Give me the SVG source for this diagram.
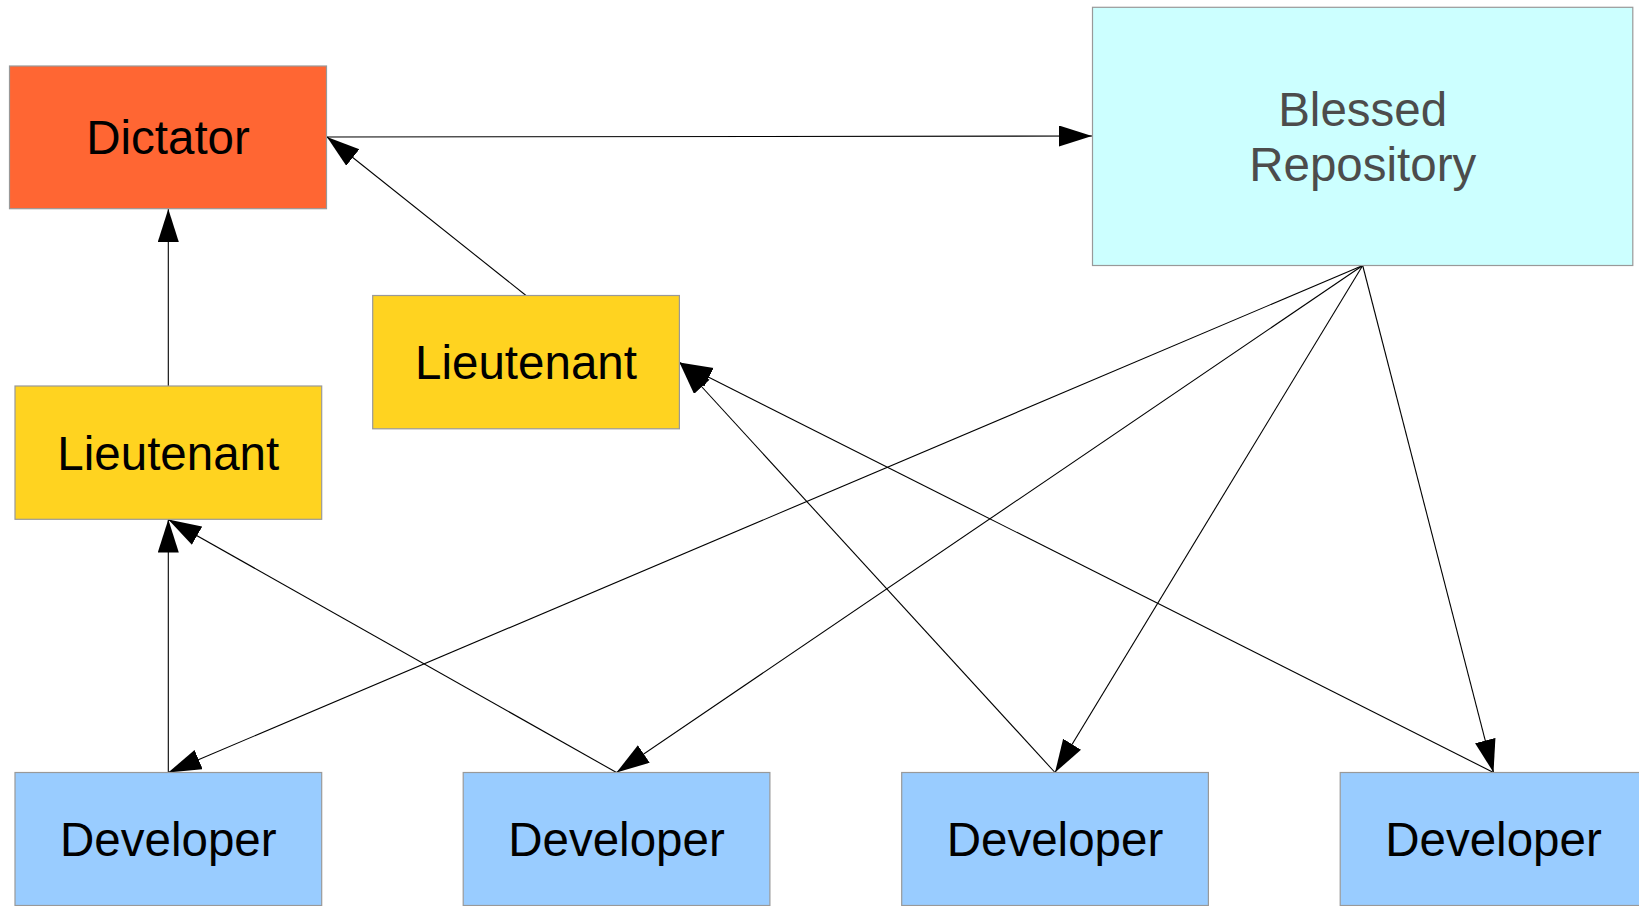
<svg xmlns="http://www.w3.org/2000/svg" width="1639" height="906" viewBox="0 0 1639 906">
<style>
.box{stroke:#999999;stroke-width:1.2}
.lbl{font-family:"Liberation Sans",Arial,sans-serif;font-size:47.5px;text-anchor:middle;fill:#000}
.conn{stroke:#000;stroke-width:1.1;fill:none;marker-end:url(#ah)}
</style>
<defs>
<marker id="ah" markerUnits="userSpaceOnUse" markerWidth="34" markerHeight="22" refX="33" refY="10.5" orient="auto" viewBox="0 0 34 22">
<path d="M0,0 L33,10.5 L0,21 z" fill="#000"/>
</marker>
</defs>
<rect width="1639" height="906" fill="#fff"/>
<g id="connectors">
<line class="conn" x1="327" y1="137" x2="1092" y2="136"/>
<line class="conn" x1="168.3" y1="386" x2="168.3" y2="209"/>
<line class="conn" x1="526" y1="295.5" x2="327" y2="137"/>
<line class="conn" x1="168.3" y1="772.5" x2="168.3" y2="519.5"/>
<line class="conn" x1="616.5" y1="772.5" x2="168.3" y2="519.5"/>
<line class="conn" x1="1055" y1="772.5" x2="679.5" y2="362.5"/>
<line class="conn" x1="1493.5" y1="772.5" x2="679.5" y2="362.5"/>
<line class="conn" x1="1362.7" y1="265.5" x2="168.3" y2="772.5"/>
<line class="conn" x1="1362.7" y1="265.5" x2="616.5" y2="772.5"/>
<line class="conn" x1="1362.7" y1="265.5" x2="1055" y2="772.5"/>
<line class="conn" x1="1362.7" y1="265.5" x2="1493.5" y2="772.5"/>
</g>
<g id="dictator">
<rect class="box" x="9.5" y="66" width="317" height="142.7" fill="#ff6633"/>
<text class="lbl" x="168" y="153.5">Dictator</text>
</g>
<g id="blessed">
<rect class="box" x="1092.5" y="7.3" width="540.3" height="258.2" fill="#ccffff"/>
<text class="lbl" x="1362.7" y="126.3" style="fill:#4c4c4c">Blessed</text>
<text class="lbl" x="1362.7" y="180.6" style="fill:#4c4c4c">Repository</text>
</g>
<g id="lieutenant1">
<rect class="box" x="15" y="386" width="306.7" height="133.3" fill="#ffd320"/>
<text class="lbl" x="168.3" y="469.5">Lieutenant</text>
</g>
<g id="lieutenant2">
<rect class="box" x="372.7" y="295.5" width="306.7" height="133.3" fill="#ffd320"/>
<text class="lbl" x="526" y="379">Lieutenant</text>
</g>
<g id="developer1">
<rect class="box" x="15" y="772.5" width="306.7" height="133" fill="#99ccff"/>
<text class="lbl" x="168.3" y="856">Developer</text>
</g>
<g id="developer2">
<rect class="box" x="463.2" y="772.5" width="306.7" height="133" fill="#99ccff"/>
<text class="lbl" x="616.5" y="856">Developer</text>
</g>
<g id="developer3">
<rect class="box" x="901.7" y="772.5" width="306.7" height="133" fill="#99ccff"/>
<text class="lbl" x="1055" y="856">Developer</text>
</g>
<g id="developer4">
<rect class="box" x="1340.2" y="772.5" width="306.7" height="133" fill="#99ccff"/>
<text class="lbl" x="1493.5" y="856">Developer</text>
</g>
</svg>
